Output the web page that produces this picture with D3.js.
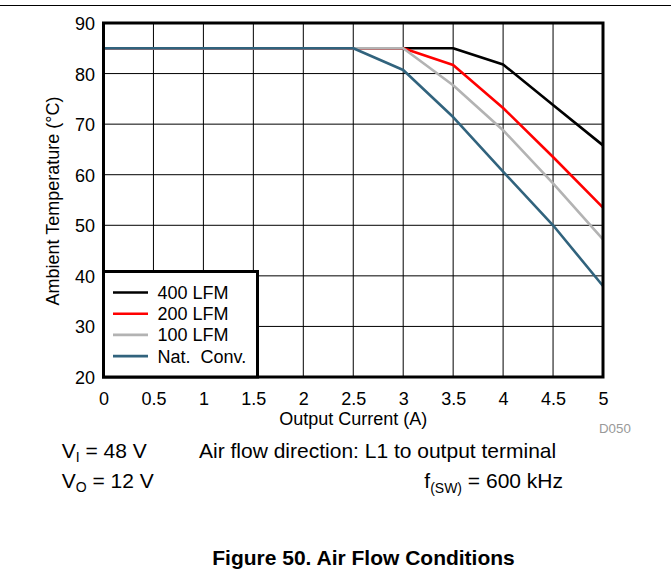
<!DOCTYPE html>
<html>
<head>
<meta charset="utf-8">
<script src="https://cdn.jsdelivr.net/npm/d3@7"></script>
<style>
html,body{margin:0;padding:0;background:#fff;}
svg text{font-family:"Liberation Sans",Arial,sans-serif;}
</style>
</head>
<body>
<svg id="chart" width="671" height="582"></svg>
<script>
// ---- data ----
const current = [0, 0.5, 1, 1.5, 2, 2.5, 3, 3.5, 4, 4.5, 5];
const lfm400 = [85, 85, 85, 85, 85, 85, 85, 85, 81.8, 73.8, 65.8];
const lfm200 = [85, 85, 85, 85, 85, 85, 85, 81.7, 73.2, 63.5, 53.5];
const lfm100 = [85, 85, 85, 85, 85, 85, 85, 77.7, 68.8, 58.3, 47.2];
const natConv = [85, 85, 85, 85, 85, 85, 80.7, 71.4, 60.6, 50.0, 38.0];
const seriesNames = ["400 LFM", "200 LFM", "100 LFM", "Nat.\u00a0 Conv."];
const seriesColors = ["#000000", "#ff0000", "#b3b3b3", "#31637d"];
const xTicks = [0, 0.5, 1, 1.5, 2, 2.5, 3, 3.5, 4, 4.5, 5];
const yTicks = [20, 30, 40, 50, 60, 70, 80, 90];

const series = [lfm400, lfm200, lfm100, natConv];

const svg = d3.select("#chart");
const L = 103.5, R = 603, T = 23, B = 377;
const x = d3.scaleLinear().domain([0, 5]).range([L, R]);
const y = d3.scaleLinear().domain([20, 90]).range([B, T]);

// top rule
svg.append("line").attr("x1", 0).attr("x2", 671).attr("y1", 5.5).attr("y2", 5.5)
  .attr("stroke", "#000").attr("stroke-width", 1);

// grid
const g = svg.append("g");
g.selectAll(".vg").data(xTicks.slice(1, -1)).enter().append("line")
  .attr("x1", d => x(d)).attr("x2", d => x(d)).attr("y1", T).attr("y2", B)
  .attr("stroke", "#000").attr("stroke-width", 1);
g.selectAll(".hg").data(yTicks.slice(1, -1)).enter().append("line")
  .attr("x1", L).attr("x2", R).attr("y1", d => y(d)).attr("y2", d => y(d))
  .attr("stroke", "#000").attr("stroke-width", 1);

// lines
const line = d3.line().x((d, i) => x(current[i])).y(d => y(d));
series.forEach((s, i) => {
  svg.append("path").datum(s).attr("d", line).attr("fill", "none")
    .attr("stroke", seriesColors[i]).attr("stroke-width", 2.6)
    .attr("stroke-linejoin", "round");
});

// axes
const xAxis = svg.append("g").attr("transform", `translate(0,${B})`)
  .call(d3.axisBottom(x).tickValues(xTicks).tickSize(0).tickPadding(15).tickFormat(d => String(d)));
const yAxis = svg.append("g").attr("transform", `translate(${L},0)`)
  .call(d3.axisLeft(y).tickValues(yTicks).tickSize(0).tickPadding(8.5).tickFormat(d => String(d)));
[xAxis, yAxis].forEach(a => {
  a.select(".domain").remove();
  a.selectAll("text").attr("font-size", 18).attr("fill", "#000")
    .attr("font-family", '"Liberation Sans", Arial, sans-serif');
});
yAxis.selectAll("text").attr("dy", "0.36em");

// border
svg.append("rect").attr("x", L).attr("y", T).attr("width", R - L).attr("height", B - T)
  .attr("fill", "none").attr("stroke", "#000").attr("stroke-width", 3);

// legend
const lg = svg.append("g");
lg.append("rect").attr("x", L).attr("y", 271.5).attr("width", 257.5 - L).attr("height", B - 271.5)
  .attr("fill", "#fff").attr("stroke", "#000").attr("stroke-width", 3);
seriesNames.forEach((n, i) => {
  const cy = 292.5 + i * 21.2;
  lg.append("line").attr("x1", 113).attr("x2", 148).attr("y1", cy).attr("y2", cy)
    .attr("stroke", seriesColors[i]).attr("stroke-width", 2.6);
  lg.append("text").attr("x", 157.5).attr("y", cy).attr("dy", "0.36em")
    .attr("font-size", 18).text(n);
});

// axis titles
svg.append("text").attr("x", x(2.5)).attr("y", 425).attr("text-anchor", "middle")
  .attr("font-size", 18).text("Output Current (A)");
svg.append("text").attr("transform", `translate(59.3,${(T + B) / 2 + 1}) rotate(-90)`)
  .attr("text-anchor", "middle").attr("font-size", 18).text("Ambient Temperature (\u00b0C)");

// D050
svg.append("text").attr("x", 599).attr("y", 433).attr("font-size", 13.3).attr("fill", "#999").text("D050");

// conditions
const t1 = svg.append("text").attr("x", 61.7).attr("y", 458).attr("font-size", 21);
t1.append("tspan").text("V");
t1.append("tspan").attr("font-size", 14).attr("dy", 4).text("I");
t1.append("tspan").attr("dy", -4).text(" = 48 V");
const t2 = svg.append("text").attr("x", 61.7).attr("y", 488).attr("font-size", 21);
t2.append("tspan").text("V");
t2.append("tspan").attr("font-size", 14).attr("dy", 4).text("O");
t2.append("tspan").attr("dy", -4).text(" = 12 V");
svg.append("text").attr("x", 199).attr("y", 458).attr("font-size", 21)
  .text("Air flow direction: L1 to output terminal");
const t3 = svg.append("text").attr("x", 563).attr("y", 488).attr("font-size", 21).attr("text-anchor", "end");
t3.append("tspan").text("f");
t3.append("tspan").attr("font-size", 14).attr("dy", 5).text("(SW)");
t3.append("tspan").attr("dy", -5).text(" = 600 kHz");

// figure title
svg.append("text").attr("x", 363.5).attr("y", 565).attr("text-anchor", "middle")
  .attr("font-size", 21).attr("font-weight", "bold").text("Figure 50. Air Flow Conditions");
</script>
</body>
</html>
